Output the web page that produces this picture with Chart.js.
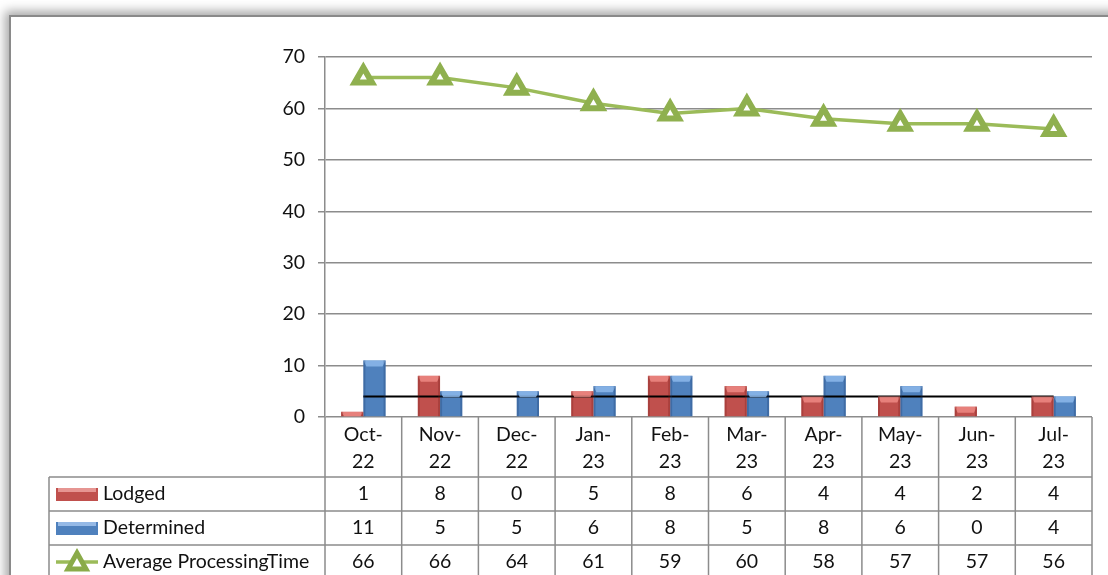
<!DOCTYPE html>
<html>
<head>
<meta charset="utf-8">
<script src="https://cdn.jsdelivr.net/npm/chart.js@4"></script>
<style>
  html, body { margin: 0; padding: 0; background: #fff; overflow: hidden; }
  #frame {
    position: absolute; left: 9px; top: 15px; width: 1200px; height: 700px;
    border: 2px solid #8a8a8a; background: #fff;
    box-shadow: 0 0 10px 4px rgba(0,0,0,0.35);
  }
  #wrap { position: absolute; left: 0; top: 0; width: 1108px; height: 575px; }
</style>
</head>
<body>
<div id="frame"></div>
<div id="wrap"><canvas id="canvas" width="1108" height="575"></canvas></div>
<script>
"use strict";

// datos
const months = ["Oct-22", "Nov-22", "Dec-22", "Jan-23", "Feb-23", "Mar-23", "Apr-23", "May-23", "Jun-23", "Jul-23"];
const lodged = [1, 8, 0, 5, 8, 6, 4, 4, 2, 4];
const determined = [11, 5, 5, 6, 8, 5, 8, 6, 0, 4];
const avgTime = [66, 66, 64, 61, 59, 60, 58, 57, 57, 56];
const refLine = [4, 4, 4, 4, 4, 4, 4, 4, 4, 4];

const FONT = "Lato, 'Liberation Sans', sans-serif";
const FSIZE = 19.5;
const GRID = "#8c8c8c";

// bisel de las barras (efecto 3D de Excel)
const bevelPlugin = {
  id: "bevel",
  afterDatasetsDraw(chart) {
    const ctx = chart.ctx;
    [0, 1].forEach(di => {
      const meta = chart.getDatasetMeta(di);
      const light = di === 0 ? "rgba(240,140,135,0.8)" : "rgba(140,185,235,0.85)";
      const dark = di === 0 ? "rgba(120,30,28,0.3)" : "rgba(25,60,110,0.3)";
      meta.data.forEach(bar => {
        const h = bar.base - bar.y;
        if (h <= 0.5) return;
        const l = bar.x - bar.width / 2, r = bar.x + bar.width / 2, t = bar.y;
        const b = Math.min(6, h);
        ctx.save();
        ctx.fillStyle = light;
        ctx.beginPath();
        ctx.moveTo(l, t); ctx.lineTo(r, t);
        ctx.lineTo(r - 3, t + b); ctx.lineTo(l + 3, t + b);
        ctx.closePath(); ctx.fill();
        ctx.fillStyle = dark;
        ctx.fillRect(l, t, 2, h);
        ctx.fillRect(r - 2, t, 2, h);
        ctx.restore();
      });
    });
  }
};

// tabla de datos debajo del grafico
const tablePlugin = {
  id: "dataTable",
  afterDraw(chart) {
    const ctx = chart.ctx;
    const area = chart.chartArea;
    const x = chart.scales.x;
    const colW = (area.right - area.left) / months.length;
    const top = area.bottom;
    const rowTops = [top + 60, top + 94, top + 128];
    const tableLeft = 49;
    const H = chart.height + 5;

    ctx.save();
    ctx.strokeStyle = GRID;
    ctx.lineWidth = 1.5;
    ctx.beginPath();
    for (let i = 0; i <= months.length; i++) {
      const xx = area.left + i * colW;
      ctx.moveTo(xx, top); ctx.lineTo(xx, H);
    }
    ctx.moveTo(tableLeft, rowTops[0]); ctx.lineTo(tableLeft, H);
    rowTops.forEach(y => { ctx.moveTo(tableLeft, y); ctx.lineTo(area.right, y); });
    ctx.stroke();

    ctx.fillStyle = "#111";
    ctx.font = FSIZE + "px " + FONT;
    ctx.textAlign = "center";
    ctx.textBaseline = "middle";
    months.forEach((m, i) => {
      const cx = x.getPixelForValue(i);
      const parts = m.split("-");
      ctx.fillText(parts[0] + "-", cx, top + 18);
      ctx.fillText(parts[1], cx, top + 45);
      ctx.fillText(String(lodged[i]), cx, rowTops[0] + 17);
      ctx.fillText(String(determined[i]), cx, rowTops[1] + 17);
      ctx.fillText(String(avgTime[i]), cx, rowTops[2] + 17);
    });

    // etiquetas con iconos
    const drawBarIcon = (y, main, hi) => {
      ctx.fillStyle = main;
      ctx.fillRect(56, y - 6, 42, 13);
      ctx.fillStyle = hi;
      ctx.fillRect(58, y - 6, 38, 4);
    };
    drawBarIcon(rowTops[0] + 17, "#C0504D", "#E69592");
    drawBarIcon(rowTops[1] + 17, "#4F81BD", "#95B9E6");
    const ly = rowTops[2] + 17;
    ctx.strokeStyle = "#9BBB59";
    ctx.lineWidth = 3.5;
    ctx.beginPath(); ctx.moveTo(56, ly); ctx.lineTo(98, ly); ctx.stroke();
    ctx.beginPath();
    ctx.moveTo(77, ly - 9); ctx.lineTo(86, ly + 7); ctx.lineTo(68, ly + 7); ctx.closePath();
    ctx.fillStyle = "#fff"; ctx.fill();
    ctx.strokeStyle = "#8aab49"; ctx.lineWidth = 5; ctx.stroke();

    ctx.fillStyle = "#111";
    ctx.textAlign = "left";
    ctx.fillText("Lodged", 103, rowTops[0] + 17);
    ctx.fillText("Determined", 103, rowTops[1] + 17);
    ctx.fillText("Average ProcessingTime", 103, rowTops[2] + 17);
    ctx.restore();
  }
};

const ctx = document.getElementById("canvas").getContext("2d");
new Chart(ctx, {
  data: {
    labels: months,
    datasets: [
      { type: "bar", label: "Lodged", data: lodged, backgroundColor: "#C0504D", order: 2,
        barPercentage: 1.0, categoryPercentage: 0.58 },
      { type: "bar", label: "Determined", data: determined, backgroundColor: "#4F81BD", order: 2,
        barPercentage: 1.0, categoryPercentage: 0.58 },
      { type: "line", label: "Ref", data: refLine, borderColor: "#000", borderWidth: 2,
        pointRadius: 0, order: 1 },
      { type: "line", label: "Average ProcessingTime", data: avgTime, borderColor: "#9BBB59",
        borderWidth: 3.5, pointStyle: "triangle", pointRadius: 10, pointBorderWidth: 6,
        pointBorderColor: "#8fb04f", pointBackgroundColor: "#ffffff", order: 0 }
    ]
  },
  options: {
    responsive: false,
    animation: false,
    layout: { padding: { left: 0, top: 57, right: 13, bottom: 158 } },
    plugins: { legend: { display: false }, tooltip: { enabled: false } },
    scales: {
      x: {
        grid: { display: false },
        border: { display: false },
        ticks: { display: false },
        afterFit: s => { s.height = 0; }
      },
      y: {
        min: 0, max: 70,
        ticks: { stepSize: 10, color: "#111", padding: 13, font: { family: FONT, size: FSIZE } },
        grid: { color: GRID, lineWidth: 1.5, tickLength: 7 },
        border: { color: GRID, width: 1.5 },
        afterFit: s => { s.width = 325; }
      }
    }
  },
  plugins: [bevelPlugin, tablePlugin]
});
</script>
</body>
</html>
